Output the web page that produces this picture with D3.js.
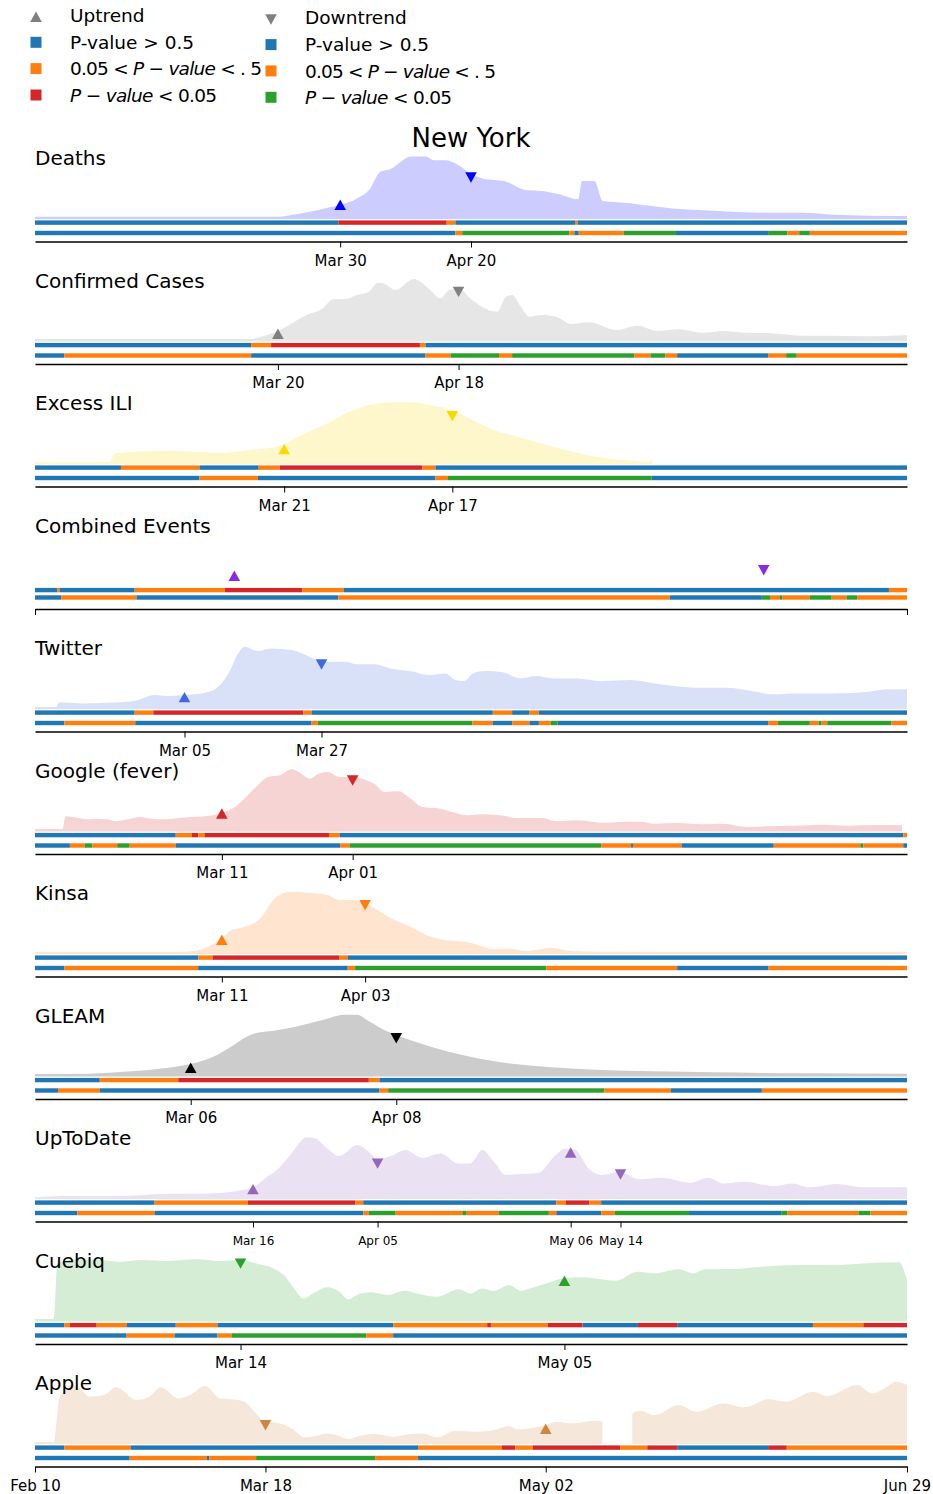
<!DOCTYPE html>
<html><head><meta charset="utf-8">
<script src="https://cdn.jsdelivr.net/npm/d3@7"></script>
<style>body{margin:0;background:#fff}svg{display:block;font-family:"DejaVu Sans",sans-serif}</style>
</head><body><svg id="c" width="933" height="1494"></svg>
<script>
// ---- data: days since Feb 10 2020, values as % of each series' peak ----
const deathsCurve = [[0,3.7],[39.3,3.7],[41.2,6.4],[44.1,11.7],[46.5,17],[49,22.4],[51.7,33],[53.6,46],[55.5,76],[57,79.5],[58.4,89],[60.3,100],[62.7,100],[64.1,94],[66,94],[68,86],[69.9,73],[71.8,65],[75.6,60],[79,46],[81.4,45],[84.2,39.5],[87.2,31.5],[87.8,61],[89.8,61],[91.2,29],[94.7,26],[97.6,22.4],[102.4,17],[109,13.3],[116.7,10],[123.4,10],[128.2,7],[140,4.8]];
const confirmedCurve = [[0,4],[34.5,4],[36.4,7.7],[39,16.8],[41.2,29],[43.6,42.4],[46,51.5],[47.9,67.5],[49.8,68],[51.7,74.4],[53.6,79.7],[55.1,94],[56,93],[57.9,82.4],[60.8,100],[63.2,85],[65.1,69],[66.5,82.4],[68,85],[69.9,69],[72.8,50.4],[74.2,47.7],[75.6,71.7],[76.6,74.4],[78,55.7],[79.4,39.7],[81.4,42.4],[83.7,39.7],[86.1,28],[89,30.7],[93.3,18.4],[96.7,25.3],[100,16.8],[103.3,19.5],[107.2,14],[110.5,16.8],[113.9,14],[118.6,13],[123.4,9.3],[128.2,9.3],[133,8.3],[140,10.4]];
const iliCurve = [[0,3.2],[12,3.2],[12.8,17],[16.3,19.7],[22,21.3],[25.9,19.7],[29.7,18],[34.5,22.4],[39.3,28.8],[42.2,43.7],[46.9,65],[51.7,89],[57.5,98.7],[60.3,98.7],[64.1,92.8],[67,86.4],[70.8,67.7],[73.7,54.4],[78.5,41],[85.2,22.4],[90,11.7],[94.7,6.4],[98.4,3.7],[99.1,8]];
const combinedCurve = [];
const twitterCurve = [[0,3.2],[3.4,3.2],[3.9,10.7],[7.7,9],[11.6,10],[15.9,12.8],[19.2,22.4],[21.1,20.8],[24,22.4],[27.3,26],[29.7,38.4],[31.2,59.7],[32.6,89],[33.7,99.7],[35.7,92.8],[37.9,97],[41.2,94.4],[44.1,83.7],[46,75.7],[49.8,75.7],[51.7,71.5],[54.6,71.5],[57,65],[60.3,60.8],[63.2,54.4],[65.9,57],[67.5,46.4],[68.9,44.8],[70.3,57],[72.3,60.8],[75.1,58.7],[78,49],[80.4,52.8],[83.3,49],[87.1,49],[90.9,44.8],[95.7,46.4],[99.5,41],[102.4,37.3],[106.2,34],[111,34],[114.8,29.3],[118.6,23.5],[121.5,25],[128.2,25],[133.9,27.7],[136.8,31.5],[140,31.5]];
const googleCurve = [[0,4],[4.4,4],[4.9,24.3],[6.8,22],[8.7,19.5],[10.1,20.5],[11.6,19.5],[13,16.3],[14.9,19.5],[16.8,23.2],[18.7,20.5],[20.7,19.5],[23,21.6],[25,23.2],[27.3,24.3],[29.9,29.6],[32.1,39.2],[33.6,52.5],[35.5,71.2],[37.4,87.2],[39.3,89.9],[41.2,99.5],[42.6,93.6],[44.1,84.5],[45.5,92.5],[47,95.2],[48.9,87.2],[50.8,87.2],[53.2,81.9],[54.6,75.5],[56,63.2],[58.4,64.3],[60.3,52.5],[62.2,39.2],[65.1,36.5],[67,31.2],[69.4,25.9],[71.8,27.5],[74.7,25.9],[77.5,21.6],[81.4,21.6],[83.7,16.3],[87.1,17.9],[90.9,14.1],[93.8,15.2],[97.1,15.7],[99.5,12.5],[103.3,13.6],[107.2,11.5],[110.5,12.5],[114.3,7.2],[117.7,8.3],[121.5,9.3],[126.8,10.9],[130.1,9.3],[135.8,10.4],[139.2,9.9]];
const kinsaCurve = [[0,3.2],[23,3.2],[25.9,5.3],[27.8,11.7],[29.9,23.5],[31.6,38.4],[33.1,42.1],[35.9,54.4],[38.8,91.7],[41.2,99.7],[44.1,98.1],[47,94.4],[48.9,86.4],[50.8,86.4],[52.9,82.1],[54.6,73],[57.5,55.5],[60.3,43.7],[63.2,28.8],[65.1,23.5],[69.9,18.1],[73.7,8],[76.1,9],[79,4.8],[82.8,10.1],[86.1,4.8],[90,3.7],[140,3.2]];
const gleamCurve = [[0,4],[8.7,4.5],[15.4,8.3],[21.1,13.6],[25,20],[28.8,32.3],[31.6,48.3],[33.6,61.6],[35.5,69.6],[38.3,73.3],[42.2,80.3],[46,89.9],[49.8,98.9],[51.7,98.9],[53.6,88.3],[56.5,72.3],[57.9,66.9],[61.3,54.7],[66.1,40.3],[70.8,29.6],[76.6,20.5],[82.3,15.2],[90,10.9],[99.5,8.3],[109,6.7],[123.4,5.1],[140,4.5]];
const uptodateCurve = [[0,2.7],[5.8,4.8],[13.5,4.8],[20.2,8],[27.8,9],[32.6,13.3],[35,18.7],[36.9,33],[38.8,46.4],[41.2,73],[43.6,98.7],[45,97],[46.9,81],[48.9,68.8],[51.7,86.4],[53.6,75.7],[55,63.5],[57.5,70.4],[59.4,78.4],[62.2,66.1],[65.1,73],[68,57],[69.9,57],[71.8,78.4],[73.7,59.7],[75.6,38.4],[77.5,39.5],[80.9,42.1],[83.3,67.7],[85.2,81],[86.6,79.5],[89,47.5],[90.9,38.4],[93.8,43.7],[97.1,31.5],[100.5,34],[105.3,26],[108.1,34],[110.5,25],[113.9,27.7],[118.6,20.8],[121.5,25],[124.4,18.7],[128.7,24],[133,18.7],[140,18.7]];
const cuebiqCurve = [[0,4],[3,4],[3.6,93],[6.8,99.5],[10.6,98.4],[13.5,95.7],[17.3,98.4],[21.1,96.8],[25.9,99.5],[29.7,96.8],[33.1,98.4],[35.5,93],[38.3,85],[40.2,71.7],[41.6,53],[43.1,37],[44.5,44],[46.9,54.7],[48.9,47.7],[50.3,35.5],[52.2,45],[54.1,46.7],[56.5,42.4],[59.4,49.3],[61.3,45],[64.6,39.7],[68,51.5],[69.9,45],[71.8,53],[73.7,48.8],[76.1,58.4],[78,49.3],[79.4,53],[81.8,60],[84.7,69],[87.6,70.7],[90,69],[93.3,65.3],[96.7,79.7],[99.5,77],[103.3,83.5],[105.7,77],[107.6,83.5],[111.9,84],[116.7,87.7],[123.4,90.4],[128.2,90.4],[133,93],[138.7,94.7],[140,66.4]];
const appleCurve = [[0,3.2],[3,3.2],[3.9,73],[4.9,86.4],[5.8,94.4],[7.3,89],[8.7,75.7],[11.1,78.4],[13,90.7],[16.3,70.4],[18.2,74.7],[20.2,90.7],[23,73],[24.9,78.4],[27.3,92.8],[29.7,73],[31.6,71.5],[33.6,67.7],[35.5,49],[36.9,35.7],[39.3,33],[41.2,25],[43.3,10.7],[45,12.8],[46.9,17],[48.3,14.4],[50.3,8],[52.2,13.3],[54.6,16],[57.5,11.7],[60.3,16],[62.2,17],[64.6,10.7],[67.5,21.3],[70.8,19.7],[73.7,22.4],[76.1,28.8],[77.5,23.5],[79.4,25],[82,30.4],[83.7,35.7],[86.1,33],[90,37.3],[91.1,35.7],[91.2,null],[95.8,null],[95.9,49],[97.1,53.3],[99.5,46.4],[103.3,62.4],[106.2,51.7],[110.5,65],[113.9,58.7],[117.7,71.5],[120.6,67.7],[124.9,83.7],[127.2,76.8],[132,94.4],[134.4,81],[136.8,91.7],[138.2,99.7],[140,94.4]];

// trend significance bars: [start day, class]  b: p>0.5  o: 0.05<p<.5  r/g: p<0.05
const deathsUp = [[0,'b'],[48.7,'r'],[66.1,'o'],[67.5,'b'],[86.7,'o'],[87.1,'b']];
const deathsDown = [[0,'b'],[67.5,'o'],[68.6,'g'],[85.8,'o'],[86.6,'b'],[87.3,'o'],[94.5,'g'],[102.9,'b'],[117.7,'g'],[120.8,'o'],[122.7,'g'],[124.4,'o']];
const confirmedUp = [[0,'b'],[34.7,'o'],[37.9,'r'],[61.8,'o'],[62.7,'b']];
const confirmedDown = [[0,'b'],[4.7,'o'],[34.7,'b'],[62.7,'o'],[66.7,'g'],[74.5,'o'],[76.6,'g'],[96.2,'o'],[98.8,'g'],[101.2,'o'],[103.1,'b'],[117.7,'o'],[120.6,'g'],[122.3,'o']];
const iliUp = [[0,'b'],[13.8,'o'],[26.4,'b'],[35.8,'o'],[39.3,'r'],[62.2,'o'],[64.3,'b']];
const iliDown = [[0,'b'],[26.4,'o'],[35.8,'b'],[64.3,'o'],[66.3,'g'],[99,'b']];
const combinedUp = [[0,'b'],[3.6,'o'],[4,'b'],[16,'o'],[30.5,'r'],[42.9,'o'],[49.6,'b'],[137.1,'o']];
const combinedDown = [[0,'b'],[4.2,'o'],[16.3,'b'],[48.7,'o'],[101.9,'b'],[116.7,'g'],[118,'o'],[119.6,'g'],[120,'o'],[124.4,'g'],[127.9,'o'],[130.3,'g'],[132,'o']];
const twitterUp = [[0,'b'],[16,'o'],[19,'r'],[43.1,'o'],[44.4,'b'],[73.5,'o'],[76.6,'b'],[79.4,'o'],[80.9,'b']];
const twitterDown = [[0,'b'],[4.7,'o'],[16.1,'b'],[44.4,'o'],[45.4,'g'],[70.2,'o'],[73.5,'b'],[76.6,'o'],[79.4,'b'],[80.9,'o'],[82.8,'g'],[83.9,'b'],[117.7,'o'],[119.3,'g'],[124.4,'o'],[125.8,'g'],[126.3,'o'],[127.2,'g'],[137.5,'o']];
const googleUp = [[0,'b'],[22.6,'o'],[25.2,'r'],[26.2,'o'],[27.2,'r'],[47.2,'o'],[48.9,'b'],[139.4,'o']];
const googleDown = [[0,'b'],[5.6,'o'],[8,'g'],[9.2,'o'],[13.2,'g'],[15.2,'o'],[22.6,'b'],[49,'o'],[50.5,'g'],[90.9,'o'],[95.7,'b'],[96,'o'],[103.8,'b'],[118.6,'o'],[132.5,'g'],[133,'o'],[139.4,'b']];
const kinsaUp = [[0,'b'],[26.2,'o'],[28.5,'r'],[48.9,'o'],[50.2,'b']];
const kinsaDown = [[0,'b'],[4.7,'o'],[26.2,'b'],[50.2,'o'],[51.4,'g'],[82.1,'o'],[103.1,'b'],[117.7,'o']];
const gleamUp = [[0,'b'],[10.4,'o'],[23,'r'],[53.6,'o'],[55.3,'b']];
const gleamDown = [[0,'b'],[3.7,'o'],[10.4,'b'],[55.3,'o'],[56.7,'g'],[91.4,'o'],[102.1,'b'],[116.7,'o']];
const uptodateUp = [[0,'b'],[19.2,'o'],[34.2,'r'],[51.4,'o'],[52.7,'b'],[83.7,'o'],[85.2,'r'],[89,'o'],[90.9,'b']];
const uptodateDown = [[0,'b'],[6.8,'o'],[19.2,'b'],[52.7,'o'],[53.6,'g'],[57.9,'o'],[68.6,'g'],[69.2,'o'],[74.5,'g'],[82.5,'o'],[83.7,'b'],[90.9,'o'],[93.1,'g'],[105,'b'],[119.8,'g'],[120.8,'o'],[132.2,'g'],[134.1,'o']];
const cuebiqUp = [[0,'b'],[4.7,'o'],[5.6,'r'],[9.9,'o'],[14.7,'b'],[22.6,'o'],[29.3,'b'],[57.5,'o'],[72.6,'r'],[73.2,'o'],[82.3,'r'],[87.9,'b'],[96.8,'r'],[103.1,'b'],[124.9,'o'],[133,'r']];
const cuebiqDown = [[0,'b'],[14.7,'o'],[22.4,'b'],[29.3,'o'],[31.6,'g'],[53.2,'o'],[57.5,'b']];
const appleUp = [[0,'b'],[4.7,'o'],[15.4,'b'],[61.5,'o'],[74.9,'r'],[77.1,'o'],[79.9,'r'],[94,'o'],[98.3,'r'],[103.1,'b'],[117.7,'r'],[120.7,'o']];
const appleDown = [[0,'b'],[15.2,'o'],[27.6,'b'],[28,'o'],[35.5,'g'],[54.6,'o'],[61.5,'b']];

// trend markers: [day, value, direction]
const deathsMarks = [[49,22.4,'up'],[70,66.7,'down']];
const confirmedMarks = [[39,12,'up'],[68,79.7,'down']];
const iliMarks = [[40,23.5,'up'],[67,76.8,'down']];
const combinedMarks = [[32,16.8,'up'],[117,26.4,'down']];
const twitterMarks = [[24,18.7,'up'],[46,71.5,'down']];
const googleMarks = [[30,28.5,'up'],[51,81.9,'down']];
const kinsaMarks = [[30,22.4,'up'],[53,78.4,'down']];
const gleamMarks = [[25,13.6,'up'],[58,61.6,'down']];
const uptodateMarks = [[35,15.5,'up'],[55,57,'down'],[86,74,'up'],[94,39.5,'down']];
const cuebiqMarks = [[33,93,'down'],[85,64.8,'up']];
const appleMarks = [[37,30.4,'down'],[82,24,'up']];

// tick days
const deathsTicks = [49,70], confirmedTicks = [39,68], iliTicks = [40,67], combinedTicks = [0,140],
      twitterTicks = [24,46], googleTicks = [30,51], kinsaTicks = [30,53], gleamTicks = [25,58],
      uptodateTicks = [35,55,86,94], cuebiqTicks = [33,85], appleTicks = [0,37,82,140];

const titles = ["Deaths","Confirmed Cases","Excess ILI","Combined Events","Twitter","Google (fever)","Kinsa","GLEAM","UpToDate","Cuebiq","Apple"];

// ---- build panels ----
const panels = [
  {curve:deathsCurve, up:deathsUp, down:deathsDown, marks:deathsMarks, ticks:deathsTicks, fill:"#ccccff", mc:"#0000ff"},
  {curve:confirmedCurve, up:confirmedUp, down:confirmedDown, marks:confirmedMarks, ticks:confirmedTicks, fill:"#e6e6e6", mc:"#808080"},
  {curve:iliCurve, up:iliUp, down:iliDown, marks:iliMarks, ticks:iliTicks, fill:"#fff7cc", mc:"#ffd700"},
  {curve:combinedCurve, up:combinedUp, down:combinedDown, marks:combinedMarks, ticks:combinedTicks, fill:"none", mc:"#8a2be2", noLabels:true, downShift:-3},
  {curve:twitterCurve, up:twitterUp, down:twitterDown, marks:twitterMarks, ticks:twitterTicks, fill:"#d9e1f9", mc:"#4169e1"},
  {curve:googleCurve, up:googleUp, down:googleDown, marks:googleMarks, ticks:googleTicks, fill:"#f7d4d4", mc:"#d62728"},
  {curve:kinsaCurve, up:kinsaUp, down:kinsaDown, marks:kinsaMarks, ticks:kinsaTicks, fill:"#ffe5cf", mc:"#ff7f0e"},
  {curve:gleamCurve, up:gleamUp, down:gleamDown, marks:gleamMarks, ticks:gleamTicks, fill:"#cccccc", mc:"#000000"},
  {curve:uptodateCurve, up:uptodateUp, down:uptodateDown, marks:uptodateMarks, ticks:uptodateTicks, fill:"#eae1f2", mc:"#9467bd", small:true},
  {curve:cuebiqCurve, up:cuebiqUp, down:cuebiqDown, marks:cuebiqMarks, ticks:cuebiqTicks, fill:"#d5ecd5", mc:"#2ca02c"},
  {curve:appleCurve, up:appleUp, down:appleDown, marks:appleMarks, ticks:appleTicks, fill:"#f5e7d9", mc:"#cd853f"}
];

const upColors = {b:"#1f77b4", o:"#ff7f0e", r:"#d62728", g:"#2ca02c"};
const start = new Date(Date.UTC(2020,1,10));
const day = d => new Date(start.getTime() + d*864e5);
const x = d3.scaleUtc().domain([day(0), day(140)]).range([35, 907]);
const fmt = d3.utcFormat("%b %d");
const svg = d3.select("#c");
const FONT = '"DejaVu Sans", sans-serif';

const triUp = "M0,-5.4L5.8,5L-5.8,5Z";
const triDown = "M0,5.4L5.8,-5L-5.8,-5Z";

panels.forEach((p, i) => {
  const off = i * 122.5;
  const g = svg.append("g");
  const y = d3.scaleLinear().domain([0, 100]).range([219 + off, 156.5 + off]);

  if (p.curve.length) {
    const area = d3.area()
      .defined(d => d[1] != null)
      .x(d => x(day(d[0])))
      .y0(y(0))
      .y1(d => y(d[1]))
      .curve(d3.curveMonotoneX);
    g.append("path").datum(p.curve).attr("d", area).attr("fill", p.fill);
  }

  const drawBar = (segs, yc) => {
    segs.forEach((s, k) => {
      const e = k < segs.length - 1 ? segs[k+1][0] : 140;
      g.append("rect")
        .attr("x", x(day(s[0]))).attr("width", Math.max(0.5, x(day(e)) - x(day(s[0]))))
        .attr("y", yc - 2.2).attr("height", 4.4)
        .attr("fill", upColors[s[1]]);
    });
  };
  drawBar(p.up, 222.6 + off);
  drawBar(p.down, 233 + off + (p.downShift || 0));

  const axis = d3.axisBottom(x)
    .tickValues(p.ticks.map(day))
    .tickFormat(p.noLabels ? () => "" : fmt)
    .tickSize(6).tickSizeOuter(0)
    .tickPadding(p.small ? 8.5 : 7.5);
  const ag = g.append("g").attr("transform", `translate(0,${241.5 + off})`).call(axis);
  ag.select(".domain").attr("stroke", "#000").attr("stroke-width", 1.3);
  ag.selectAll(".tick line").attr("stroke", "#000").attr("stroke-width", 1);
  ag.selectAll(".tick text").attr("fill", "#000").attr("font-family", FONT)
    .attr("font-size", p.small ? 12 : 15);

  p.marks.forEach(m => {
    g.append("path")
      .attr("d", m[2] === "up" ? triUp : triDown)
      .attr("transform", `translate(${x(day(m[0]))},${y(m[1])})`)
      .attr("fill", p.mc);
  });

  g.append("text").attr("x", 35).attr("y", 165 + off)
    .attr("font-family", FONT).attr("font-size", 20).attr("fill", "#000")
    .text(titles[i]);
});

// ---- title ----
svg.append("text").attr("x", 471).attr("y", 147).attr("text-anchor", "middle")
  .attr("font-family", FONT).attr("font-size", 26).attr("fill", "#000").text("New York");

// ---- legend ----
const legendLeft = [
  {sym:"up", color:"#808080", text:[["Uptrend"]]},
  {sym:"sq", color:"#1f77b4", text:[["P-value > 0.5"]]},
  {sym:"sq", color:"#ff7f0e", text:[["0.05 < "],["P","i"],[" − "],["value","i"],[" < . 5"]], len:192},
  {sym:"sq", color:"#d62728", text:[["P","i"],[" − "],["value","i"],[" < 0.05"]], len:147}
];
const legendRight = [
  {sym:"down", color:"#808080", text:[["Downtrend"]]},
  {sym:"sq", color:"#1f77b4", text:[["P-value > 0.5"]]},
  {sym:"sq", color:"#ff7f0e", text:[["0.05 < "],["P","i"],[" − "],["value","i"],[" < . 5"]], len:191},
  {sym:"sq", color:"#2ca02c", text:[["P","i"],[" − "],["value","i"],[" < 0.05"]], len:147}
];
const legRows = [15, 42.3, 68.6, 95];
function drawLegend(items, mx, tx, dy) {
  items.forEach((it, k) => {
    const cy = legRows[k] + dy;
    if (it.sym === "sq") {
      svg.append("rect").attr("x", mx - 5.5).attr("y", cy - 5.5).attr("width", 11).attr("height", 11).attr("fill", it.color);
    } else {
      svg.append("path").attr("d", it.sym === "up" ? triUp : triDown)
        .attr("transform", `translate(${mx},${cy + 2})`).attr("fill", it.color);
    }
    const t = svg.append("text").attr("x", tx).attr("y", cy + 6.7)
      .attr("font-family", FONT).attr("font-size", 18.5).attr("fill", "#000")
      .attr("xml:space", "preserve").style("white-space", "pre");
    if (it.len) t.attr("textLength", it.len).attr("lengthAdjust", "spacing");
    it.text.forEach(s => {
      t.append("tspan").attr("font-style", s[1] === "i" ? "italic" : "normal").text(s[0]);
    });
  });
}
drawLegend(legendLeft, 36, 70, 0);
drawLegend(legendRight, 271, 305, 2.3);
</script></body></html>
